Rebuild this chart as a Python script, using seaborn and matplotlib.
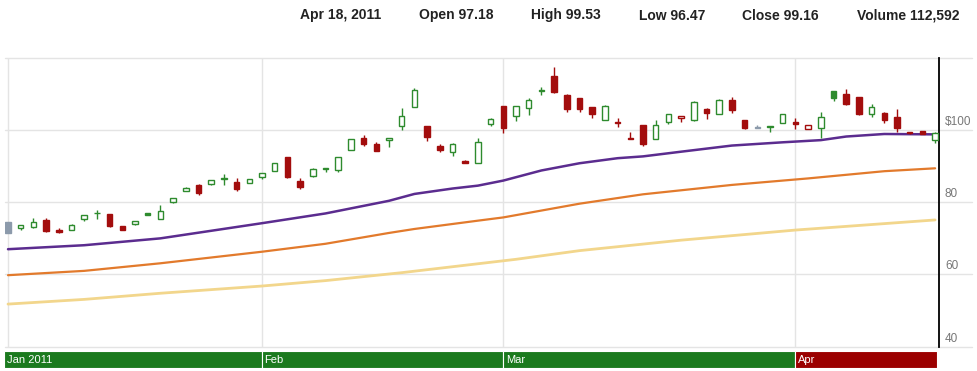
import matplotlib

matplotlib.use("Agg")
import matplotlib.pyplot as plt
import numpy as np
import pandas as pd
import seaborn as sns

# Daily candles, Jan 3 - Apr 18 2011 (trading days)
opens = [74.4, 72.8, 73.2, 75.2, 72.3, 72.3, 75.3, 76.9, 76.7, 73.3,
         73.9, 76.9, 75.5, 80.0, 83.1, 84.9, 85.1, 86.5, 85.6, 85.4,
         87.0, 88.7, 92.5, 86.0, 87.4, 89.2, 89.0, 94.5, 97.9, 96.2,
         97.1, 101.1, 106.4, 101.1, 95.6, 94.0, 91.3, 91.0, 101.8, 106.6,
         103.8, 106.2, 110.8, 115.0, 109.7, 108.8, 106.3, 102.9, 102.1, 97.7,
         101.3, 97.5, 102.3, 103.2, 102.7, 105.8, 104.4, 108.2, 102.7, 100.8,
         100.8, 102.0, 102.3, 100.3, 100.5, 110.7, 110.0, 109.1, 104.3, 104.8,
         103.7, 99.4, 99.7, 97.18]
highs = [74.4, 73.8, 75.6, 75.6, 72.8, 74.1, 76.5, 77.9, 76.8, 73.4,
         74.9, 77.0, 79.2, 81.2, 84.1, 85.0, 86.2, 87.8, 86.7, 86.4,
         88.1, 91.0, 92.6, 86.6, 89.6, 89.6, 92.6, 97.6, 98.6, 96.8,
         97.9, 106.2, 111.6, 101.2, 96.2, 96.3, 91.8, 97.8, 103.4, 106.7,
         106.7, 108.9, 111.8, 117.5, 109.9, 108.9, 106.4, 107.0, 103.4, 99.5,
         101.4, 102.7, 104.4, 104.0, 107.9, 106.0, 108.7, 109.1, 102.8, 101.4,
         101.0, 104.4, 103.4, 101.5, 105.0, 110.8, 111.4, 109.2, 107.3, 104.9,
         105.7, 99.5, 99.8, 99.53]
lows = [71.5, 72.2, 72.9, 71.8, 71.6, 72.2, 74.8, 75.3, 73.1, 72.2,
        73.8, 76.4, 75.4, 79.9, 83.0, 81.9, 84.7, 84.9, 83.1, 85.3,
        86.5, 88.6, 86.7, 83.8, 86.9, 88.3, 88.3, 94.4, 95.6, 94.2,
        95.3, 100.0, 106.3, 96.9, 93.8, 92.8, 91.0, 90.9, 101.1, 99.1,
        102.6, 104.2, 109.8, 110.2, 104.9, 104.9, 103.4, 102.8, 100.9, 97.5,
        95.6, 97.4, 101.7, 102.3, 102.5, 103.0, 104.3, 104.6, 100.4, 100.5,
        99.5, 101.9, 100.2, 100.2, 97.9, 108.1, 107.0, 104.1, 103.6, 101.9,
        99.5, 98.9, 98.9, 96.47]
closes = [71.6, 73.8, 74.4, 72.0, 71.7, 73.6, 76.4, 77.0, 73.3, 72.3,
          74.8, 76.6, 77.6, 81.1, 84.0, 82.5, 86.1, 86.6, 83.8, 86.3,
          88.0, 90.9, 86.9, 84.3, 89.2, 89.3, 92.5, 97.5, 96.2, 94.3,
          97.9, 103.8, 111.0, 98.2, 94.5, 96.2, 91.0, 96.7, 103.1, 100.5,
          106.6, 108.2, 110.9, 110.4, 105.9, 105.8, 104.3, 106.6, 102.0, 97.6,
          96.0, 101.3, 104.3, 103.9, 107.8, 104.6, 108.2, 105.5, 100.5, 100.5,
          100.9, 104.3, 101.6, 101.4, 103.7, 108.9, 107.3, 104.3, 106.4, 102.7,
          100.5, 99.1, 99.0, 99.16]

# moving averages, read at trading-day positions
short_idx = [0, 6, 12, 20, 25, 28, 30, 32, 35, 37, 39, 42, 45, 48, 50, 53, 57, 61, 64, 66, 69, 73]
short_ma = [67.0, 68.1, 70.0, 74.2, 76.9, 79.0, 80.4, 82.3, 83.8, 84.6, 86.0, 88.8,
            90.8, 92.2, 92.7, 94.0, 95.7, 96.6, 97.2, 98.2, 98.9, 98.8]
mid_idx = [0, 6, 12, 20, 25, 30, 32, 37, 39, 45, 50, 57, 63, 69, 73]
mid_ma = [59.8, 61.0, 63.1, 66.3, 68.5, 71.5, 72.6, 74.9, 75.8, 79.6, 82.2, 84.8,
          86.6, 88.6, 89.4]
long_idx = [0, 6, 12, 20, 25, 31, 40, 45, 53, 62, 73]
long_ma = [51.8, 53.1, 54.8, 56.8, 58.3, 60.5, 64.2, 66.6, 69.5, 72.3, 75.1]

month_labels = ["Jan 2011", "Feb", "Mar", "Apr"]
month_colors = ["#1b7a1e", "#1b7a1e", "#1b7a1e", "#9b0000"]
y_ticks = [40, 60, 80, 100]
y_ticklabels = ["40", "60", "80", "$100"]
header = ["Apr 18, 2011", "Open 97.18", "High 99.53", "Low 96.47",
          "Close 99.16", "Volume 112,592"]

dates = pd.bdate_range("2011-01-03", "2011-04-18")
dates = dates.drop(pd.to_datetime(["2011-01-17", "2011-02-21"]))
n = len(dates)
idx = np.arange(n)
month_starts = [0] + [i for i in range(1, n) if dates[i].month != dates[i - 1].month]

GREEN = "#2e8b2e"
RED = "#a30d0d"
GREY = "#8c9aab"

sns.set_theme(style="white")
plt.rcParams["font.family"] = ["Liberation Sans", "DejaVu Sans"]

W, H = 977, 371
fig = plt.figure(figsize=(W / 100, H / 100), dpi=100)
px = 12.7  # pixels per trading day
x0 = 8     # pixel of first candle
left_px, right_px, top_px, bot_px = 4.5, 939.3, 57.8, 346.7
ax = fig.add_axes([left_px / W, 1 - bot_px / H, (right_px - left_px) / W, (bot_px - top_px) / H])
ax.set_xlim((left_px - x0) / px, (right_px - x0) / px)
ax.set_ylim(40, 120)

# grid
for v in [40, 60, 80, 100, 120]:
    ax.axhline(v, xmin=0, xmax=(972 - left_px) / (right_px - left_px), color="#e4e4e4",
               lw=1, clip_on=False, zorder=0)
for m in month_starts:
    ax.axvline(m, color="#e4e4e4", lw=1, zorder=0)

# moving averages
sns.lineplot(x=long_idx, y=long_ma, ax=ax, color="#f2d68c", lw=2.0, zorder=2)
sns.lineplot(x=mid_idx, y=mid_ma, ax=ax, color="#e27a2c", lw=1.6, zorder=2)
sns.lineplot(x=short_idx, y=short_ma, ax=ax, color="#5b2c8f", lw=1.8, zorder=2)

# candles
for i in idx:
    o, h, l, c = opens[i], highs[i], lows[i], closes[i]
    if i == 0 or c == closes[i - 1]:
        col = GREY
    elif c > closes[i - 1]:
        col = GREEN
    else:
        col = RED
    filled = c < o
    ax.vlines(i, l, h, color=col, lw=1.0, zorder=3)
    bot = min(o, c)
    hgt = max(abs(c - o), 0.25)
    ax.bar(i, hgt, bottom=bot, width=0.44, color=col if filled else "white",
           edgecolor=col, linewidth=1.0, zorder=4)

# axes styling
for s in ["left", "top", "bottom"]:
    ax.spines[s].set_visible(False)
ax.spines["right"].set_color("black")
ax.spines["right"].set_linewidth(1.3)
ax.set_xticks([])
ax.set_yticks([])
ax.set_xlabel("")
ax.set_ylabel("")
for v, lab in zip(y_ticks, y_ticklabels):
    ax.text(1.006, v + 0.6, lab, transform=ax.get_yaxis_transform(), ha="left",
            va="bottom", fontsize=8.5, color="#777777")

# month bar
bx = fig.add_axes([4 / W, 3 / H, 933 / W, 17 / H])
bx.set_xlim((4 - x0) / px, (937 - x0) / px)
bx.set_ylim(0, 1)
edges = [bx.get_xlim()[0]] + month_starts[1:] + [bx.get_xlim()[1]]
for k in range(len(month_labels)):
    bx.bar(edges[k], 1, width=edges[k + 1] - edges[k], bottom=0, align="edge",
           color=month_colors[k], edgecolor="white", linewidth=0.8)
    bx.text(edges[k] + 0.2, 0.45, month_labels[k], color="white", fontsize=8,
            va="center", ha="left")
bx.axis("off")

# header
header_x = [300, 419, 531, 639, 742, 857]
for xp, t in zip(header_x, header):
    fig.text(xp / W, 1 - 19.5 / H, t, fontsize=10, fontweight="bold",
             color="#222222", va="baseline", ha="left")

fig.savefig("out.png", dpi=100)
